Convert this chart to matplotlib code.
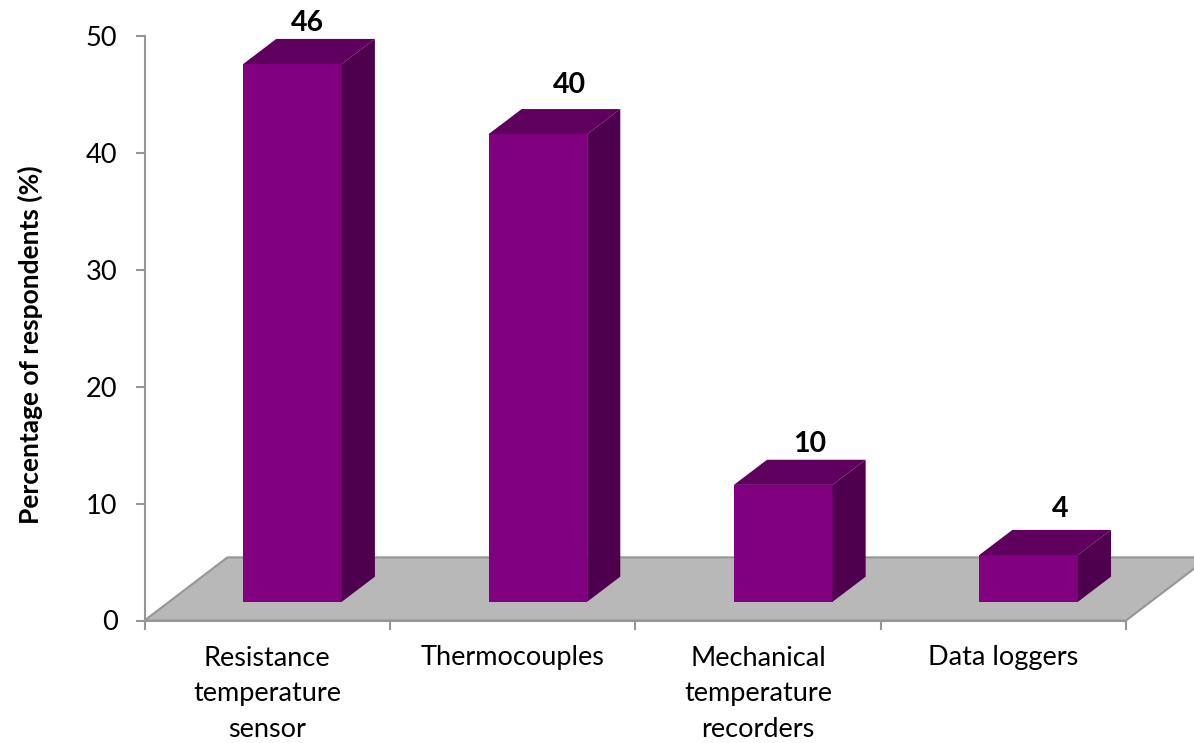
import numpy as np
import matplotlib
matplotlib.use('Agg')
import matplotlib.pyplot as plt
from matplotlib.patches import Polygon

plt.rcParams['font.family'] = ['Lato', 'DejaVu Sans']

categories = ['Resistance\ntemperature\nsensor', 'Thermocouples',
              'Mechanical\ntemperature\nrecorders', 'Data loggers']
values = [46, 40, 10, 4]
y_ticks = [0, 10, 20, 30, 40, 50]

# fake 3D geometry, in axis units
depth_x   = 0.135
depth_y   = 2.15
lift      = 1.6
bar_width = 0.402
floor_x   = 0.338
floor_y   = 5.4

# offset of each value label from the bar's back edge, in points
label_shift = [-1, 11, 7, 11]
label_rise  = [11.5, 17, 11, 15]

front_col = '#800080'
top_col   = '#5f005f'
side_col  = '#4e004e'
grey      = '#969696'
floor_col = '#b8b8b8'

W, H = 1194, 743
fig = plt.figure(figsize=(W/100, H/100), dpi=100)
ax  = fig.add_axes([144.5/W, 1-620.5/H, (1126-144.5)/W, (620.5-36)/H])
ax.set_xlim(0, len(categories))
ax.set_ylim(0, 50)

# floor
n = len(categories)
ax.add_patch(Polygon([(0, 0), (floor_x, floor_y), (n+floor_x, floor_y), (n, 0)],
                     closed=True, facecolor=floor_col, edgecolor=grey,
                     linewidth=1.5, clip_on=False, zorder=1))

xs = np.arange(n) + 0.402
for x, v, shift, rise in zip(xs, values, label_shift, label_rise):
    top = v + lift
    ax.bar(x, v, width=bar_width, bottom=lift, align='edge', color=front_col, zorder=3)
    ax.add_patch(Polygon([(x, top), (x+depth_x, top+depth_y),
                          (x+bar_width+depth_x, top+depth_y), (x+bar_width, top)],
                         closed=True, facecolor=top_col, edgecolor='none',
                         clip_on=False, zorder=3))
    ax.add_patch(Polygon([(x+bar_width, lift), (x+bar_width+depth_x, lift+depth_y),
                          (x+bar_width+depth_x, top+depth_y), (x+bar_width, top)],
                         closed=True, facecolor=side_col, edgecolor='none',
                         clip_on=False, zorder=3))
    ax.annotate(str(v), (x+bar_width/2+depth_x/2, top+depth_y), xytext=(shift, rise),
                textcoords='offset points', ha='center', va='center',
                fontsize=20.5, fontweight='bold', color='black',
                annotation_clip=False, zorder=4)

for s in ('top', 'right'):
    ax.spines[s].set_visible(False)
for s in ('left', 'bottom'):
    ax.spines[s].set_color(grey)
    ax.spines[s].set_linewidth(1.5)
    ax.spines[s].set_zorder(2)

ax.set_yticks(y_ticks)
ax.set_xticks(np.arange(n+1))
ax.set_xticklabels([])
ax.set_xticks(np.arange(n)+0.5, minor=True)
ax.set_xticklabels(categories, minor=True, fontsize=19.5, linespacing=1.53, va='top')
ax.tick_params(axis='x', which='major', length=6.5, width=1.5, color=grey, direction='out')
ax.tick_params(axis='x', which='minor', length=0, pad=18)
ax.tick_params(axis='y', length=6.5, width=1.5, color=grey, labelsize=19.5, pad=13)

fig.text(30/W, 1-345/H, 'Percentage of respondents (%)', rotation=90,
         ha='center', va='center', fontsize=19, fontweight='bold')

plt.savefig('out.png', dpi=100)
